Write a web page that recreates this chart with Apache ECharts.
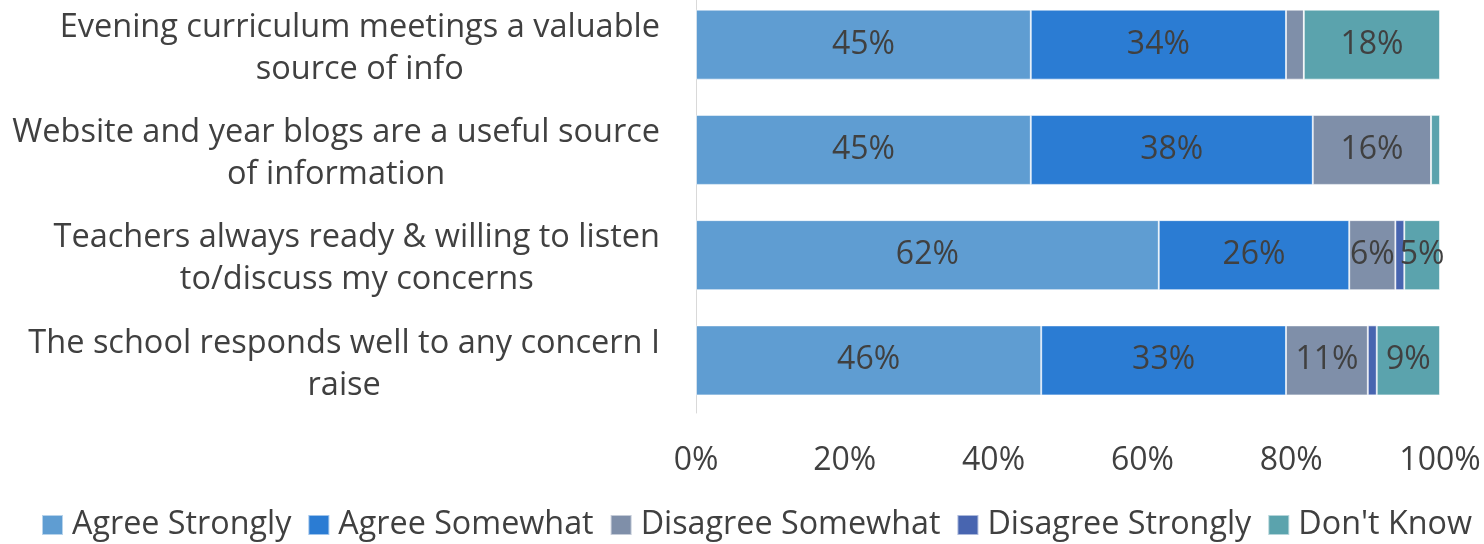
<!DOCTYPE html>
<html><head><meta charset="utf-8">
<script src="https://cdn.jsdelivr.net/npm/echarts@6/dist/echarts.min.js"></script>
<style>html,body{margin:0;padding:0;background:#fff}#c{width:1484px;height:544px}</style>
</head><body><div id="c"></div>
<script>
const categories = [
  "Evening curriculum meetings a valuable\nsource of info",
  "Website and year blogs are a useful source\nof information",
  "Teachers always ready & willing to listen\nto/discuss my concerns",
  "The school responds well to any concern I\nraise"
];
const seriesNames = ["Agree Strongly", "Agree Somewhat", "Disagree Somewhat", "Disagree Strongly", "Don't Know"];
const agreeStrongly    = [45.0, 45.0, 62.2, 46.4];
const agreeSomewhat    = [34.3, 37.9, 25.6, 32.9];
const disagreeSomewhat = [2.4, 15.9, 6.2, 11.0];
const disagreeStrongly = [0, 0, 1.2, 1.2];
const dontKnow         = [18.3, 1.2, 4.8, 8.5];
const xTicks = [0, 20, 40, 60, 80, 100];

const colors = ["#5f9dd2", "#2b7cd3", "#7f8fa9", "#4865b0", "#5ba3ad"];
const values = [agreeStrongly, agreeSomewhat, disagreeSomewhat, disagreeStrongly, dontKnow];
const FONT = "Open Sans";
const TXT = "#404040";

const chart = echarts.init(document.getElementById('c'), null, {renderer: 'canvas'});
chart.setOption({
  animation: false,
  backgroundColor: '#fff',
  textStyle: {fontFamily: FONT},
  grid: {left: 696, right: 44, top: -8, bottom: 131, containLabel: false, outerBoundsMode: 'none'},
  legend: {
    left: 41, top: 509, width: 1443, padding: 0,
    itemWidth: 21, itemHeight: 20, itemGap: 16,
    icon: 'rect',
    textStyle: {fontFamily: FONT, fontSize: 32.3, color: TXT, padding: [0, 0, 0, 4]},
    data: seriesNames
  },
  xAxis: {
    type: 'value', min: xTicks[0], max: xTicks[xTicks.length - 1], interval: 20,
    axisLine: {show: false}, axisTick: {show: false}, splitLine: {show: false},
    axisLabel: {formatter: '{value}%', fontFamily: FONT, fontSize: 32, color: TXT, margin: 32}
  },
  yAxis: {
    type: 'category', inverse: true, data: categories,
    axisLine: {show: true, lineStyle: {color: '#d9d9d9', width: 1}},
    axisTick: {show: false},
    axisLabel: {
      margin: 36, align: 'right', fontFamily: FONT, fontSize: 32.5, color: TXT,
      padding: [8, 0, 0, 0],
      formatter: v => v.split('\n').map(l => '{c|' + l + '}').join('\n'),
      rich: {c: {align: 'center', fontFamily: FONT, fontSize: 32.5, color: TXT, lineHeight: 42}}
    }
  },
  series: seriesNames.map((n, i) => ({
    name: n, type: 'bar', stack: 'total', barWidth: 70,
    itemStyle: {color: colors[i], borderColor: 'rgba(255,255,255,0.55)', borderWidth: 1},
    label: {
      show: true, position: 'inside', fontFamily: FONT, fontSize: 32, color: TXT,
      formatter: p => p.value >= 4 ? Math.round(p.value) + '%' : ''
    },
    data: values[i]
  }))
});
</script></body></html>
